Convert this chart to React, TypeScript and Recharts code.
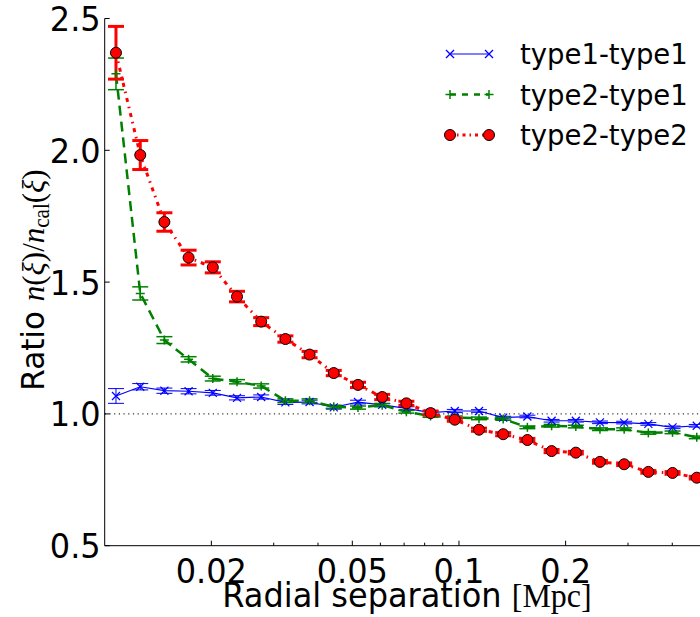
import React from "react";
import { LineChart, Line, XAxis, YAxis, ErrorBar, ReferenceLine } from "recharts";

// radial separation bins [Mpc]
const sep = [0.01076, 0.0126, 0.01474, 0.01725, 0.02019, 0.02363, 0.02765, 0.03236, 0.03787, 0.04432, 0.05188, 0.06071, 0.07105,
  0.08315, 0.09732, 0.1139, 0.1333, 0.156, 0.1826, 0.2137, 0.25, 0.2926, 0.3424, 0.4007, 0.469];

const t11 = [1.068, 1.103, 1.088, 1.086, 1.08, 1.061, 1.064, 1.044, 1.045, 1.025, 1.045, 1.034, 1.021, 1.005, 1.011, 1.011,
  0.986, 0.99, 0.974, 0.974, 0.968, 0.967, 0.962, 0.949, 0.955];
const t11err = [0.028, 0.012, 0.01, 0.01, 0.009, 0.008, 0.008, 0.008, 0.007, 0.007, 0.007, 0.006, 0.006, 0.006, 0.006, 0.005,
  0.005, 0.005, 0.005, 0.005, 0.005, 0.005, 0.005, 0.005, 0.005];

const t21 = [2.29, 1.457, 1.28, 1.207, 1.134, 1.122, 1.106, 1.05, 1.05, 1.027, 1.024, 1.033, 1.008, 0.992, 0.987, 0.983,
  0.981, 0.949, 0.955, 0.952, 0.942, 0.942, 0.928, 0.93, 0.911];
const t21err = [0.06, 0.025, 0.013, 0.01, 0.009, 0.008, 0.008, 0.007, 0.007, 0.006, 0.006, 0.006, 0.005, 0.005, 0.005, 0.005,
  0.005, 0.005, 0.005, 0.005, 0.005, 0.005, 0.005, 0.005, 0.005];

const t22 = [2.37, 1.982, 1.728, 1.593, 1.556, 1.445, 1.35, 1.284, 1.225, 1.155, 1.11, 1.064, 1.04, 1.003, 0.978, 0.94,
  0.923, 0.901, 0.859, 0.853, 0.818, 0.809, 0.78, 0.776, 0.758];
const t22err = [0.1, 0.055, 0.035, 0.028, 0.021, 0.02, 0.015, 0.012, 0.012, 0.01, 0.01, 0.01, 0.008, 0.008, 0.006, 0.006,
  0.006, 0.006, 0.006, 0.005, 0.005, 0.005, 0.005, 0.005, 0.005];

const xTicks = [0.02, 0.03, 0.04, 0.05, 0.06, 0.07, 0.08, 0.09, 0.1, 0.2, 0.3, 0.4];
const xLabeled = [0.02, 0.05, 0.1, 0.2];
const yTicks = [0.5, 1.0, 1.5, 2.0, 2.5];

const legendItems = [
  { name: "type1-type1", color: "#0000ff", kind: "x" },
  { name: "type2-type1", color: "#008000", kind: "+" },
  { name: "type2-type2", color: "#ff0000", kind: "o" },
];

const data = sep.map((x, i) => ({
  x, t11: t11[i], t11e: t11err[i], t21: t21[i], t21e: t21err[i], t22: t22[i], t22e: t22err[i],
}));

const SANS = "DejaVu Sans";
const SERIF = "Liberation Serif";
const TICK_FS = 32;

function Marker({ kind, cx, cy, color }: any) {
  if (kind === "x") {
    const s = 4;
    return <g stroke={color} strokeWidth={1.2}>
      <line x1={cx - s} y1={cy - s} x2={cx + s} y2={cy + s} />
      <line x1={cx - s} y1={cy + s} x2={cx + s} y2={cy - s} />
    </g>;
  }
  if (kind === "+") {
    const s = 4.5;
    return <g stroke={color} strokeWidth={1.5}>
      <line x1={cx - s} y1={cy} x2={cx + s} y2={cy} />
      <line x1={cx} y1={cy - s} x2={cx} y2={cy + s} />
    </g>;
  }
  return <circle cx={cx} cy={cy} r={5.5} fill={color} stroke="#000" strokeWidth={1} />;
}

const dotFor = (kind: string, color: string) => (p: any) =>
  <Marker key={`${kind}${p.index}`} kind={kind} cx={p.cx} cy={p.cy} color={color} />;

function BottomTick({ x, y, payload }: any) {
  const major = xLabeled.includes(payload.value);
  return <g>
    <line x1={x} x2={x} y1={y} y2={y - (major ? 5 : 3)} stroke="#000" />
    {major && <text transform={`translate(${x},${y + 37}) scale(1,1.08)`} textAnchor="middle" fontSize={TICK_FS}
      fontFamily={SANS} fill="#000">{String(payload.value)}</text>}
  </g>;
}

function TopTick({ x, y, payload }: any) {
  const major = xLabeled.includes(payload.value);
  return <line x1={x} x2={x} y1={y} y2={y + (major ? 5 : 3)} stroke="#000" />;
}

function LeftTick({ x, y, payload }: any) {
  return <g>
    <line x1={x} x2={x + 5} y1={y} y2={y} stroke="#000" />
    <text transform={`translate(${x - 4},${y + 12.5}) scale(1,1.08)`} textAnchor="end" fontSize={TICK_FS}
      fontFamily={SANS} fill="#000">{payload.value.toFixed(1)}</text>
  </g>;
}

export default function App() {
  return (
    <div style={{ position: "fixed", left: 0, top: 0, width: 700, height: 617, overflow: "hidden", background: "#fff" }}>
      <LineChart width={720} height={617} data={data} margin={{ top: 18.5, right: 13.4, bottom: 0, left: 44.7 }}>
        <XAxis xAxisId="b" dataKey="x" type="number" scale="log" domain={[0.01, 0.5]} allowDataOverflow
          ticks={xTicks} interval={0} tickSize={0} tickMargin={0} tick={<BottomTick />} height={71.3}
          axisLine={{ stroke: "#000", strokeWidth: 1 }} />
        <XAxis xAxisId="t" orientation="top" dataKey="x" type="number" scale="log" domain={[0.01, 0.5]} allowDataOverflow
          ticks={xTicks} interval={0} tickSize={0} tickMargin={0} tick={<TopTick />} height={0}
          axisLine={{ stroke: "#000", strokeWidth: 1 }} />
        <YAxis type="number" domain={[0.5, 2.5]} ticks={yTicks} interval={0} tickSize={0} tickMargin={0}
          tick={<LeftTick />} width={60} axisLine={{ stroke: "#000", strokeWidth: 1 }} />
        <ReferenceLine xAxisId="b" y={1.0} stroke="#000" strokeDasharray="1.2 3.5" strokeWidth={1} />
        <Line xAxisId="b" dataKey="t11" stroke="#0000ff" strokeWidth={1.2} isAnimationActive={false}
          dot={dotFor("x", "#0000ff")}>
          <ErrorBar dataKey="t11e" direction="y" width={8} stroke="#0000ff" strokeWidth={1} />
        </Line>
        <Line xAxisId="b" dataKey="t21" stroke="#008000" strokeWidth={2.5} strokeDasharray="10 6" isAnimationActive={false}
          dot={dotFor("+", "#008000")}>
          <ErrorBar dataKey="t21e" direction="y" width={8} stroke="#008000" strokeWidth={1.5} />
        </Line>
        <Line xAxisId="b" dataKey="t22" stroke="#ff0000" strokeWidth={3} strokeDasharray="4 5 1.5 5" isAnimationActive={false}
          dot={dotFor("o", "#ff0000")}>
          <ErrorBar dataKey="t22e" direction="y" width={8} stroke="#ff0000" strokeWidth={3} />
        </Line>
      </LineChart>
      <svg width={700} height={617} style={{ position: "absolute", left: 0, top: 0, pointerEvents: "none" }}>
        {legendItems.map((it, i) => {
          const y = 54 + i * 40.5;
          return <g key={it.name}>
            <line x1={450} x2={489} y1={y} y2={y} stroke={it.color}
              strokeWidth={it.kind === "x" ? 1.2 : it.kind === "+" ? 2.5 : 3}
              strokeDasharray={it.kind === "+" ? "6 6" : it.kind === "o" ? "3 4 1.5 4" : undefined} />
            <Marker kind={it.kind} cx={450} cy={y} color={it.color} />
            <Marker kind={it.kind} cx={489} cy={y} color={it.color} />
            <text x={520} y={y + 10} fontSize={27.5} fontFamily={SANS} fill="#000">{it.name}</text>
          </g>;
        })}
        <text transform="translate(44,280) rotate(-90) scale(1,1.05)" textAnchor="middle" fontSize={31} fill="#000">
          <tspan fontFamily={SANS}>Ratio </tspan>
          <tspan fontFamily={SERIF} fontStyle="italic">n</tspan>
          <tspan fontFamily={SERIF}>(</tspan>
          <tspan fontFamily={SERIF} fontStyle="italic">ξ</tspan>
          <tspan fontFamily={SERIF}>)/</tspan>
          <tspan fontFamily={SERIF} fontStyle="italic">n</tspan>
          <tspan fontFamily={SERIF} fontSize={21} dy={5}>cal</tspan>
          <tspan fontFamily={SERIF} dy={-5}>(</tspan>
          <tspan fontFamily={SERIF} fontStyle="italic">ξ</tspan>
          <tspan fontFamily={SERIF}>)</tspan>
        </text>
        <text transform="translate(407,607) scale(1,1.05)" textAnchor="middle" fontSize={32} fill="#000">
          <tspan fontFamily={SANS}>Radial separation </tspan>
          <tspan fontFamily={SERIF}>[Mpc]</tspan>
        </text>
      </svg>
    </div>
  );
}
